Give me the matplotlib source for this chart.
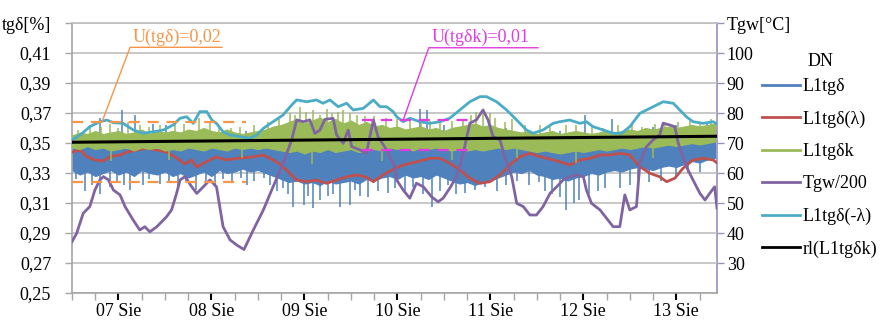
import numpy as np
import matplotlib
matplotlib.use("Agg")
from matplotlib import pyplot as plt
from matplotlib.ticker import MultipleLocator

plt.rcParams['font.family'] = ['Liberation Serif', 'DejaVu Serif']
plt.rcParams['font.size'] = 13

# time axis: hours since 06 Sie 12:00
x_end = 166.5
day_ticks = [12, 36, 60, 84, 108, 132, 156]
day_labels = ['07 Sie', '08 Sie', '09 Sie', '10 Sie', '11 Sie', '12 Sie', '13 Sie']

# Tgw (purple) in degC
tgw_h = [0, 1.2, 2.9, 4.6, 5.9, 7.2, 8.1, 9.4, 10.7, 12.4, 13.7, 15.8, 17.5, 18.8, 20.1, 21.9,
         24.4, 25.7, 27.0, 27.9, 29.2, 30.9, 32.2, 33.9, 35.6, 37.3, 39.0, 40.8, 42.5, 44.4,
         46.8, 49.4, 51.9, 54.5, 56.7, 58.0, 59.7, 61.4, 62.7, 64.0, 65.3, 67.4, 68.3, 70.0,
         71.3, 72.2, 74.3, 76.0, 77.8, 79.0, 81.2, 83.4, 83.8, 85.5, 87.2, 88.9, 90.7, 92.8,
         94.5, 95.8, 97.5, 99.3, 101.0, 102.7, 104.4, 106.1, 107.4, 108.7, 110.5, 111.7, 113.5,
         114.8, 116.5, 118.2, 119.9, 121.6, 123.4, 125.1, 126.8, 128.5, 130.2, 132.0, 132.8,
         134.1, 136.3, 138.0, 139.7, 141.4, 142.7, 144.0, 145.7, 146.6, 148.3, 150.0, 151.7,
         152.6, 154.3, 155.6, 156.5, 158.6, 160.3, 162.1, 163.4, 164.6, 165.9, 166.5]
tgw_T = [37.1, 39.9, 46.6, 48.8, 54.3, 57.7, 58.8, 57.7, 54.3, 52.7, 48.8, 44.3, 41.0, 42.1, 40.4,
         42.1, 45.4, 47.7, 53.2, 57.7, 58.8, 55.4, 53.2, 55.4, 57.7, 55.4, 42.1, 37.7, 36.0, 34.5,
         41.0, 47.7, 55.4, 63.2, 71.0, 77.7, 77.1, 77.7, 73.2, 74.3, 77.9, 78.2, 72.7, 69.9, 74.3,
         68.8, 67.7, 66.6, 77.7, 72.1, 67.7, 62.1, 57.7, 54.3, 51.6, 56.6, 55.4, 52.1, 50.4, 51.6,
         54.9, 58.8, 66.6, 76.6, 77.7, 81.0, 77.7, 72.1, 71.0, 65.4, 58.8, 49.9, 48.8, 46.0, 46.0,
         48.8, 53.2, 55.4, 57.7, 58.8, 59.3, 58.8, 54.3, 49.9, 47.7, 44.9, 42.1, 42.1, 52.7, 47.7,
         48.8, 63.2, 68.8, 71.0, 72.7, 76.6, 76.0, 75.4, 69.9, 62.1, 57.7, 53.2, 51.0, 53.2, 55.4,
         48.3]

# L1tgd(lambda) - red
red_h = [0, 2.1, 3.8, 5.9, 8.1, 9.8, 12.4, 14.5, 16.7, 19.3, 21.9, 24.4, 27.0, 29.2, 30.9, 32.2,
         33.9, 35.6, 37.3, 39.7, 43.4, 46.7, 49.4, 52.8, 55.4, 58.0, 60.6, 63.1, 65.7, 68.3, 70.9,
         73.5, 75.9, 77.8, 80.3, 83.4, 85.5, 89.0, 92.4, 95.0, 97.5, 100.1, 102.7, 105.3, 107.9,
         110.5, 113.0, 115.6, 118.2, 120.8, 123.4, 125.9, 128.5, 131.1, 133.7, 136.3, 138.8,
         141.4, 144.0, 146.6, 149.2, 151.7, 153.5, 155.6, 157.7, 160.3, 162.9, 165.5, 166.5]
red_v = [0.344, 0.3453, 0.3409, 0.3387, 0.338, 0.3409, 0.342, 0.3442, 0.3453, 0.3465, 0.3453,
         0.344, 0.340, 0.336, 0.3387, 0.334, 0.3365, 0.3387, 0.3407, 0.3387, 0.340, 0.3407, 0.342,
         0.3375, 0.332, 0.3253, 0.3242, 0.3253, 0.3231, 0.3253, 0.3275, 0.3287, 0.3273, 0.3242,
         0.3287, 0.3331, 0.3353, 0.3375, 0.3398, 0.3398, 0.3365, 0.332, 0.3265, 0.3231, 0.3242,
         0.3287, 0.3353, 0.3409, 0.3431, 0.3409, 0.3393, 0.3375, 0.3353, 0.3387, 0.3398, 0.342,
         0.342, 0.3431, 0.342, 0.3342, 0.3298, 0.3275, 0.3242, 0.3265, 0.3331, 0.3387, 0.3398,
         0.3387, 0.3367]

# L1tgd(-lambda) - cyan
cyan_h = [0, 2.1, 4.6, 7.2, 9.0, 10.7, 13.2, 15.8, 18.4, 21.0, 23.6, 26.1, 27.9, 29.6, 31.3, 33.0,
          34.8, 36.1, 37.3, 39.0, 40.8, 43.4, 45.9, 47.7, 49.4, 51.9, 54.5, 56.7, 58.0, 60.6,
          63.1, 64.8, 66.6, 68.7, 70.9, 72.6, 75.2, 77.8, 79.5, 81.2, 82.9, 83.8, 85.5, 87.2,
          89.8, 92.4, 95.0, 97.5, 100.1, 102.7, 105.3, 107.0, 109.6, 112.2, 114.8, 117.3, 119.0,
          121.6, 124.2, 125.9, 128.5, 131.1, 132.8, 134.5, 137.1, 139.7, 141.9, 144.0, 146.6,
          149.2, 150.9, 152.6, 155.2, 156.9, 158.6, 160.3, 162.9, 165.5, 166.5]
cyan_v = [0.352, 0.3553, 0.3609, 0.3642, 0.3653, 0.3635, 0.3631, 0.3587, 0.3565, 0.3575, 0.3587,
          0.362, 0.3665, 0.3675, 0.3631, 0.3709, 0.3709, 0.3653, 0.3631, 0.3575, 0.3553, 0.3542,
          0.3531, 0.3553, 0.3598, 0.3642, 0.3687, 0.3753, 0.3787, 0.3775, 0.3787, 0.3765, 0.3787,
          0.3742, 0.3765, 0.372, 0.3731, 0.3787, 0.3742, 0.3742, 0.3709, 0.3675, 0.3642, 0.3665,
          0.3642, 0.3631, 0.3642, 0.3665, 0.372, 0.3775, 0.3809, 0.3809, 0.3775, 0.372, 0.3653,
          0.3587, 0.3565, 0.3587, 0.3631, 0.3642, 0.3653, 0.3631, 0.3642, 0.3609, 0.3587, 0.3565,
          0.3565, 0.3609, 0.3698, 0.3731, 0.3753, 0.3775, 0.3765, 0.372, 0.3675, 0.3642, 0.3631,
          0.3642, 0.3627]

# noisy series: band top / bottom every 2 hours
noise_h = np.arange(0, 167, 2)
blue_hi = [0.348, 0.347, 0.349, 0.346, 0.348, 0.347, 0.349, 0.346, 0.348, 0.347,
           0.349, 0.346, 0.348, 0.347, 0.349, 0.348, 0.347, 0.349, 0.348, 0.347,
           0.349, 0.348, 0.347, 0.349, 0.348, 0.350, 0.349, 0.351, 0.350, 0.352,
           0.350, 0.351, 0.352, 0.350, 0.351, 0.352, 0.350, 0.351, 0.349, 0.350,
           0.351, 0.349, 0.350, 0.349, 0.350, 0.351, 0.349, 0.350, 0.351, 0.352,
           0.351, 0.353, 0.352, 0.351, 0.352, 0.350, 0.349, 0.350, 0.349, 0.348,
           0.350, 0.349, 0.348, 0.349, 0.348, 0.350, 0.349, 0.350, 0.351, 0.350,
           0.351, 0.352, 0.351, 0.352, 0.353, 0.352, 0.354, 0.353, 0.354, 0.355,
           0.356, 0.357, 0.358, 0.359]
blue_lo = [0.332, 0.329, 0.331, 0.328, 0.330, 0.332, 0.329, 0.331, 0.328, 0.332,
           0.330, 0.329, 0.331, 0.328, 0.330, 0.327, 0.329, 0.331, 0.328, 0.332,
           0.330, 0.331, 0.333, 0.331, 0.332, 0.330, 0.328, 0.326, 0.324, 0.325,
           0.323, 0.324, 0.322, 0.325, 0.323, 0.324, 0.325, 0.323, 0.326, 0.325,
           0.327, 0.328, 0.326, 0.329, 0.327, 0.328, 0.326, 0.329, 0.327, 0.325,
           0.323, 0.324, 0.322, 0.324, 0.325, 0.327, 0.329, 0.331, 0.330, 0.332,
           0.329, 0.328, 0.326, 0.327, 0.325, 0.327, 0.328, 0.330, 0.329, 0.331,
           0.332, 0.331, 0.333, 0.334, 0.333, 0.332, 0.334, 0.335, 0.334, 0.336,
           0.338, 0.337, 0.339, 0.340]
green_hi = [0.355, 0.357, 0.356, 0.358, 0.356, 0.357,
            0.358, 0.356, 0.357, 0.359, 0.356, 0.358, 0.357,
            0.358, 0.357, 0.359, 0.358, 0.360, 0.358, 0.357, 0.359, 0.357, 0.356,
            0.357, 0.358, 0.359, 0.361, 0.362,
            0.364, 0.366, 0.363, 0.365, 0.367, 0.364, 0.366, 0.363, 0.365, 0.362, 0.364, 0.361, 0.362,
            0.360, 0.361, 0.359, 0.360, 0.361, 0.359, 0.360, 0.358, 0.360, 0.361,
            0.362, 0.363, 0.361, 0.362, 0.360, 0.359, 0.358,
            0.357, 0.358, 0.356, 0.357, 0.358, 0.356, 0.357, 0.358, 0.357, 0.356, 0.357, 0.358, 0.357,
            0.358, 0.359, 0.358, 0.360, 0.359, 0.360, 0.361, 0.360, 0.361, 0.362, 0.361, 0.362, 0.363]
green_lo = [0.347, 0.346, 0.348, 0.346, 0.347, 0.345,
            0.346, 0.347, 0.345, 0.347, 0.346, 0.347, 0.345,
            0.346, 0.345, 0.347, 0.346, 0.345, 0.347, 0.346, 0.345, 0.347, 0.346,
            0.347, 0.346, 0.347, 0.346, 0.345,
            0.344, 0.345, 0.343, 0.345, 0.344, 0.346, 0.344, 0.345, 0.346, 0.344, 0.345, 0.346, 0.345,
            0.347, 0.346, 0.347, 0.345, 0.347, 0.346, 0.347, 0.346, 0.345, 0.346,
            0.345, 0.346, 0.345, 0.346, 0.347, 0.346, 0.347,
            0.346, 0.345, 0.344, 0.345, 0.344, 0.343, 0.344, 0.345, 0.344, 0.345, 0.346, 0.345, 0.346,
            0.347, 0.346, 0.347, 0.348, 0.347, 0.348, 0.349, 0.348, 0.349, 0.350, 0.349, 0.350, 0.351]

# single spikes sticking out of the bands (time, tip value)
blue_spike_h = [1.0, 3.4, 5.2, 7.2, 9.8, 11.5, 13.4, 15.0, 18.3, 20.0, 22.7, 25.0, 27.4, 29.5,
                32.0, 34.5, 37.0, 39.0, 41.3, 43.5, 45.2, 47.0, 49.5, 51.0, 52.9, 54.5, 55.8,
                57.0, 59.8, 61.0, 62.2, 64.0, 66.0, 67.5, 69.2, 71.7, 73.0, 74.3, 76.5, 79.0,
                81.5, 83.5, 86.0, 88.0, 90.5, 92.9, 95.0, 97.0, 99.0, 101.5, 104.0, 106.5, 109.7,
                112.0, 115.0, 118.0, 120.5, 122.0, 124.0, 126.0, 127.5, 129.5, 131.0, 133.5,
                135.7, 137.5, 141.4, 144.0, 146.0, 149.0, 152.0, 156.0, 159.0, 162.0,
                7.2, 12.9, 16.3, 20.9, 24.3, 30.5, 45.0, 60.0, 65.0, 70.0, 89.8, 91.6, 96.0,
                100.5, 112.0, 118.0, 126.0, 132.4, 139.4, 145.0, 150.0, 156.0, 160.0, 164.0]
blue_spike_v = [0.326, 0.318, 0.322, 0.316, 0.321, 0.325, 0.322, 0.319, 0.322, 0.326, 0.323,
                0.324, 0.321, 0.325, 0.319, 0.323, 0.321, 0.326, 0.324, 0.327, 0.322, 0.325,
                0.327, 0.322, 0.318, 0.320, 0.316, 0.3075, 0.309, 0.315, 0.3067, 0.312, 0.315,
                0.316, 0.3075, 0.309, 0.319, 0.315, 0.314, 0.318, 0.317, 0.320, 0.318, 0.321,
                0.316, 0.3075, 0.318, 0.322, 0.316, 0.317, 0.319, 0.321, 0.318, 0.322, 0.325,
                0.322, 0.324, 0.318, 0.316, 0.314, 0.3053, 0.310, 0.312, 0.316, 0.318, 0.320,
                0.320, 0.322, 0.326, 0.324, 0.325, 0.327, 0.330, 0.331,
                0.3665, 0.372, 0.369, 0.363, 0.362, 0.357, 0.358, 0.362, 0.361, 0.360, 0.373,
                0.372, 0.362, 0.360, 0.360, 0.358, 0.358, 0.369, 0.366, 0.358, 0.361, 0.362,
                0.362, 0.363]
green_spike_h = [1.5, 4.6, 7.5, 9.8, 12.0, 14.5, 17.5, 20.0, 22.7, 26.6, 29.0, 32.8, 35.6, 38.0,
                 41.0, 43.4, 47.0, 50.5, 53.5, 56.3, 57.5, 58.8, 60.5, 62.2, 64.0, 65.8, 67.0,
                 68.6, 70.0, 71.7, 73.5, 75.6, 78.0, 81.0, 84.0, 87.2, 90.0, 92.5, 95.0, 98.0,
                 101.0, 103.0, 104.3, 106.1, 107.8, 109.2, 111.7, 113.5, 117.0, 120.8, 123.5,
                 127.5, 130.0, 134.2, 137.0, 141.0, 144.5, 147.1, 150.5, 153.0, 156.5, 159.5,
                 162.1, 165.0,
                 10.0, 25.0, 44.0, 62.0, 80.0, 98.0, 115.0, 130.0, 150.0]
green_spike_v = [0.359, 0.362, 0.361, 0.363, 0.360, 0.364, 0.362, 0.361, 0.362, 0.365, 0.363,
                 0.367, 0.364, 0.362, 0.360, 0.361, 0.362, 0.364, 0.366, 0.370, 0.369, 0.374,
                 0.371, 0.372, 0.369, 0.373, 0.370, 0.371, 0.372, 0.370, 0.369, 0.368, 0.368,
                 0.367, 0.366, 0.366, 0.364, 0.365, 0.364, 0.365, 0.366, 0.369, 0.371, 0.372,
                 0.370, 0.367, 0.364, 0.366, 0.362, 0.362, 0.361, 0.362, 0.362, 0.362, 0.360,
                 0.362, 0.362, 0.361, 0.363, 0.362, 0.364, 0.365, 0.364, 0.366,
                 0.338, 0.339, 0.340, 0.336, 0.338, 0.339, 0.340, 0.337, 0.340]

# regression line rl(L1tgdk)
trend_h = [0, x_end]
trend_v = [0.3505, 0.3545]

# uncertainty bands
u_tg_h = [0, 45]
u_tg_mid, u_tg = 0.3437, 0.02
u_k_h = [74.8, 103.6]
u_k_mid, u_k = 0.3553, 0.01

c_blue = '#4F81BD'
c_red = '#C0504D'
c_green = '#9BBB59'
c_purple = '#8064A2'
c_cyan = '#4BACC6'
c_orange = '#F79646'
c_magenta = '#E03CE0'


def to_T(v):
    return 20 + (np.asarray(v) - 0.25) * 500


def from_T(t):
    return 0.25 + (np.asarray(t) - 20) / 500


fig = plt.figure(figsize=(8.88, 3.23), dpi=100)
ax = fig.add_axes([72 / 888, 30 / 323, 645 / 888, 270 / 323])
ax.set_xlim(0, x_end)
ax.set_ylim(0.25, 0.43)

# blue band
bh, bl = np.array(blue_hi), np.array(blue_lo)
ax.fill_between(noise_h, bl, bh, color=c_blue, lw=0.8, zorder=2)
bmid = np.interp(blue_spike_h, noise_h, (bh + bl) / 2)
ax.vlines(blue_spike_h, bmid, blue_spike_v, color=c_blue, lw=1.1, zorder=2)

ax.plot(red_h, red_v, color=c_red, lw=2.0, zorder=3)

gh, gl = np.array(green_hi), np.array(green_lo)
ax.fill_between(noise_h, gl, gh, color=c_green, lw=0.8, zorder=4)
gmid = np.interp(green_spike_h, noise_h, (gh + gl) / 2)
ax.vlines(green_spike_h, gmid, green_spike_v, color=c_green, lw=1.1, zorder=4)

ax.plot(tgw_h, from_T(tgw_T), color=c_purple, lw=2.0, zorder=5)
ax.plot(cyan_h, cyan_v, color=c_cyan, lw=2.0, zorder=6)
ax.plot(trend_h, trend_v, color='black', lw=2.2, zorder=7)

# uncertainty lines
for yy in (u_tg_mid + u_tg, u_tg_mid - u_tg):
    ax.plot(u_tg_h, [yy, yy], color=c_orange, lw=1.6, ls=(0, (5, 3.5)), zorder=8)
for yy in (u_k_mid + u_k, u_k_mid - u_k):
    ax.plot(u_k_h, [yy, yy], color=c_magenta, lw=1.6, ls=(0, (5, 3.5)), zorder=8)

ax.plot([7.7, 15.0, 38.7], [u_tg_mid + u_tg, 0.4138, 0.4138], color=c_orange, lw=1.0, zorder=8)
ax.text(27.2, 0.4150, 'U(tgδ)=0,02', color=c_orange, ha='center', va='bottom', fontsize=13)
ax.plot([85.5, 92.1, 120.3], [u_k_mid + u_k, 0.4135, 0.4135], color=c_magenta, lw=1.0, zorder=8)
ax.text(105.5, 0.4147, 'U(tgδk)=0,01', color=c_magenta, ha='center', va='bottom', fontsize=13)

# axes styling
ax.set_yticks(np.arange(0.25, 0.4301, 0.02))
ax.set_yticklabels([f'{v:.2f}'.replace('.', ',') for v in np.arange(0.25, 0.4101, 0.02)] + ['tgδ[%]'])
ax.yaxis.grid(True, color='#BFBFBF', lw=1.2)
ax.set_axisbelow(True)
ax.tick_params(axis='y', length=5, width=1, color='#A6A6A6', pad=10)
ax.set_xticks(day_ticks)
ax.set_xticklabels(day_labels)
ax.xaxis.set_minor_locator(MultipleLocator(6))
ax.tick_params(axis='x', which='major', length=5, width=1.5, color='black', pad=2)
ax.tick_params(axis='x', which='minor', length=5, width=1, color='#A6A6A6')
for s in ('left', 'bottom'):
    ax.spines[s].set_color('#A6A6A6')
    ax.spines[s].set_linewidth(1.2)
ax.spines['top'].set_color('#BFBFBF')
ax.spines['top'].set_linewidth(1.2)
ax.spines['right'].set_visible(False)

sec = ax.secondary_yaxis('right', functions=(to_T, from_T))
sec.set_yticks(np.arange(30, 111, 10))
sec.set_yticklabels([str(t) for t in range(30, 101, 10)] + ['Tgw[°C]'])
sec.tick_params(length=5, width=1, color='#9A8FBF', pad=2)
sec.spines['right'].set_color('#9A8FBF')
sec.spines['right'].set_linewidth(1.2)

handles = [
    plt.Line2D([], [], color=c_blue, lw=2),
    plt.Line2D([], [], color=c_red, lw=2),
    plt.Line2D([], [], color=c_green, lw=2),
    plt.Line2D([], [], color=c_purple, lw=2),
    plt.Line2D([], [], color=c_cyan, lw=2),
    plt.Line2D([], [], color='black', lw=2),
]
labels = ['L1tgδ', 'L1tgδ(λ)', 'L1tgδk', 'Tgw/200', 'L1tgδ(-λ)', 'rl(L1tgδk)']
fig.text(820 / 888, 1 - 62 / 323, 'DN', ha='center', va='center', fontsize=13)
fig.legend(handles, labels, loc='upper left', bbox_to_anchor=(762 / 888, 1 - 78 / 323),
           frameon=False, handlelength=2.1, handletextpad=0.15, borderpad=0,
           labelspacing=0.85, borderaxespad=0)

fig.savefig('out.png', dpi=100)
